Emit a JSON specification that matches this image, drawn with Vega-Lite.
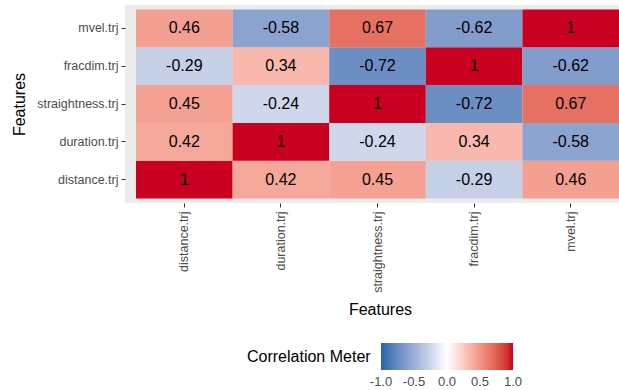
{
  "$schema": "https://vega.github.io/schema/vega-lite/v6.json",
  "autosize": {"type": "none"},
  "padding": {"left": 125, "top": 5, "right": 0, "bottom": 187},
  "width": 494,
  "height": 198,
  "background": "white",
  "config": {
    "view": {"fill": "#EBEBEB", "stroke": null},
    "font": "Liberation Sans"
  },
  "data": {
    "values": [
      {"x": "distance.trj", "y": "distance.trj", "r": 1},
      {"x": "duration.trj", "y": "distance.trj", "r": 0.42},
      {"x": "straightness.trj", "y": "distance.trj", "r": 0.45},
      {"x": "fracdim.trj", "y": "distance.trj", "r": -0.29},
      {"x": "mvel.trj", "y": "distance.trj", "r": 0.46},
      {"x": "distance.trj", "y": "duration.trj", "r": 0.42},
      {"x": "duration.trj", "y": "duration.trj", "r": 1},
      {"x": "straightness.trj", "y": "duration.trj", "r": -0.24},
      {"x": "fracdim.trj", "y": "duration.trj", "r": 0.34},
      {"x": "mvel.trj", "y": "duration.trj", "r": -0.58},
      {"x": "distance.trj", "y": "straightness.trj", "r": 0.45},
      {"x": "duration.trj", "y": "straightness.trj", "r": -0.24},
      {"x": "straightness.trj", "y": "straightness.trj", "r": 1},
      {"x": "fracdim.trj", "y": "straightness.trj", "r": -0.72},
      {"x": "mvel.trj", "y": "straightness.trj", "r": 0.67},
      {"x": "distance.trj", "y": "fracdim.trj", "r": -0.29},
      {"x": "duration.trj", "y": "fracdim.trj", "r": 0.34},
      {"x": "straightness.trj", "y": "fracdim.trj", "r": -0.72},
      {"x": "fracdim.trj", "y": "fracdim.trj", "r": 1},
      {"x": "mvel.trj", "y": "fracdim.trj", "r": -0.62},
      {"x": "distance.trj", "y": "mvel.trj", "r": 0.46},
      {"x": "duration.trj", "y": "mvel.trj", "r": -0.58},
      {"x": "straightness.trj", "y": "mvel.trj", "r": 0.67},
      {"x": "fracdim.trj", "y": "mvel.trj", "r": -0.62},
      {"x": "mvel.trj", "y": "mvel.trj", "r": 1}
    ]
  },
  "transform": [
    {"calculate": "replace(format(datum.r, '.2~f'), '\u2212', '-')", "as": "lab"}
  ],
  "encoding": {
    "x": {
      "field": "x", "type": "nominal",
      "sort": ["distance.trj", "duration.trj", "straightness.trj", "fracdim.trj", "mvel.trj"],
      "scale": {"paddingInner": 0, "paddingOuter": 0.057, "align": 1},
      "axis": {
        "title": "Features", "titleFontSize": 16, "titleFontWeight": "normal", "titleColor": "black",
        "titlePadding": 9, "titleX": 255,
        "labelAngle": 270, "labelFontSize": 12.5, "labelColor": "#4D4D4D", "labelPadding": 4,
        "tickColor": "#333333", "tickSize": 4, "domain": false, "grid": false
      }
    },
    "y": {
      "field": "y", "type": "nominal",
      "sort": ["mvel.trj", "fracdim.trj", "straightness.trj", "duration.trj", "distance.trj"],
      "scale": {"paddingInner": 0, "paddingOuter": 0.12},
      "axis": {
        "title": "Features", "titleFontSize": 16, "titleFontWeight": "normal", "titleColor": "black",
        "titlePadding": 9,
        "labelFontSize": 12.5, "labelColor": "#4D4D4D", "labelPadding": 3,
        "tickColor": "#333333", "tickSize": 4, "domain": false, "grid": false
      }
    }
  },
  "layer": [
    {
      "mark": {"type": "rect"},
      "encoding": {
        "color": {
          "field": "r", "type": "quantitative",
          "scale": {"domain": [-1, 0, 1], "range": ["#2166AC", "#FFFFFF", "#CA0020"], "interpolate": "lab"},
          "legend": {
            "title": "Correlation Meter", "orient": "none", "legendX": 122, "legendY": 338,
            "direction": "horizontal", "titleOrient": "left", "titleFontSize": 16,
            "titleFontWeight": "normal", "titleColor": "black", "titlePadding": 10,
            "titleBaseline": "middle",
            "gradientLength": 132, "gradientThickness": 27,
            "values": [-1, -0.5, 0, 0.5, 1], "format": ".1f",
            "labelExpr": "replace(datum.label, '\u2212', '-')",
            "labelOverlap": false, "labelAlign": "center",
            "labelFontSize": 13, "labelColor": "#4D4D4D", "labelOffset": 6,
            "encode": {"labels": {"update": {"align": {"value": "center"}}}}
          }
        }
      }
    },
    {
      "mark": {"type": "text", "fontSize": 16, "color": "black"},
      "encoding": {
        "text": {"field": "lab", "type": "nominal"}
      }
    }
  ]
}
